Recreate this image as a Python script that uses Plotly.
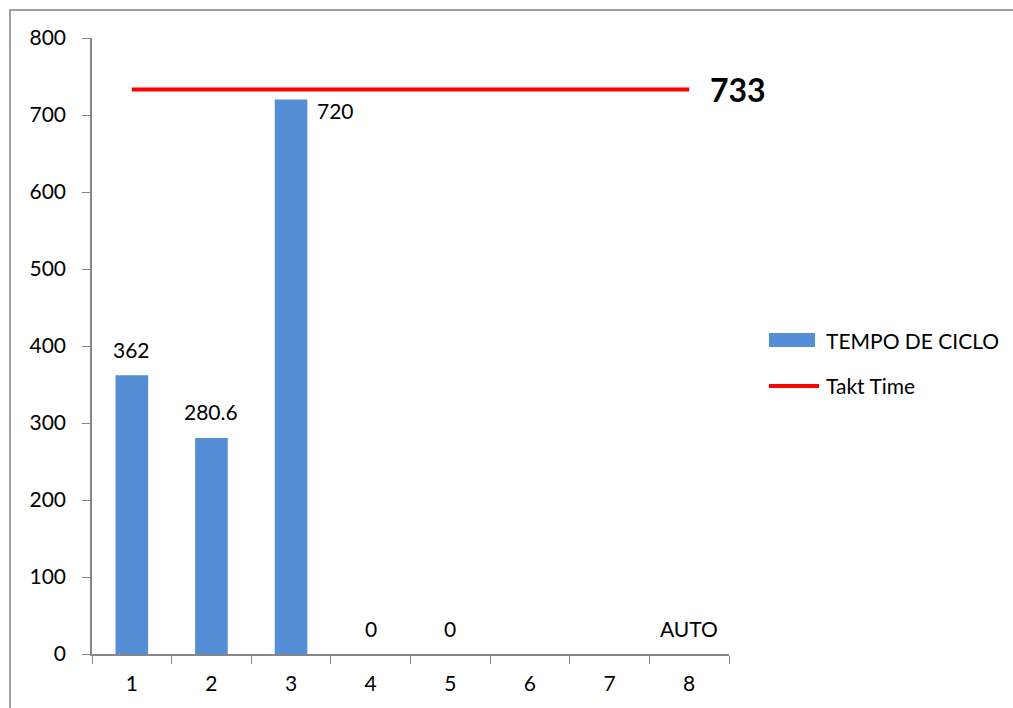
import plotly.graph_objects as go

categories = ["1", "2", "3", "4", "5", "6", "7", "8"]
cycle_time = [362, 280.6, 720, 0, 0, None, None, 0]
bar_labels = ["362", "280.6", "720", "0", "0", "", "", "AUTO"]
takt_time = [733, 733, 733, 733, 733, 733, 733, 733]
takt_label = "733"
series_names = ["TEMPO DE CICLO", "Takt Time"]
y_ticks = [0, 100, 200, 300, 400, 500, 600, 700, 800]

FONT = "Lato"
BLUE = "#558ed5"
RED = "#ff0000"

fig = go.Figure()
fig.add_trace(go.Bar(
    x=categories, y=cycle_time, name=series_names[0],
    marker=dict(color=BLUE, line=dict(width=0)), showlegend=False,
))
fig.add_trace(go.Scatter(
    x=categories, y=takt_time, name=series_names[1], mode="lines",
    line=dict(color=RED, width=4), showlegend=False,
))

# data labels (x given as category index)
for i, (v, t) in enumerate(zip(cycle_time, bar_labels)):
    if not t:
        continue
    val = v if v is not None else 0
    if i == 2:
        fig.add_annotation(x=i, y=val, text=t, showarrow=False, xanchor="left",
                           yanchor="middle", xshift=24, yshift=-11,
                           font=dict(family=FONT, size=21, color="#000"))
    else:
        fig.add_annotation(x=i, y=val, text=t, showarrow=False, xanchor="center",
                           yanchor="middle", yshift=26,
                           font=dict(family=FONT, size=21, color="#000"))

fig.add_annotation(x=len(categories) - 1, y=takt_time[-1], text="<b>" + takt_label + "</b>",
                   showarrow=False, xanchor="left", yanchor="middle", xshift=19, yshift=0,
                   font=dict(family=FONT, size=32, color="#000"))

W, H = 1013, 708
L, R, T, B = 92, 284, 38, 54
pw, ph = W - L - R, H - T - B


def px(xp):
    return (xp - L) / pw


def py(yp):
    return (H - B - yp) / ph


# outer chart border
fig.add_shape(type="rect", xref="paper", yref="paper",
              x0=px(10), x1=px(W + 20), y0=py(H + 20), y1=py(10),
              line=dict(color="#a0a0a0", width=2), fillcolor="rgba(0,0,0,0)", layer="below")

# legend (drawn like the original Excel legend)
fig.add_shape(type="rect", xref="paper", yref="paper",
              x0=px(769), x1=px(815), y0=py(347), y1=py(333),
              line=dict(width=0), fillcolor=BLUE)
fig.add_annotation(xref="paper", yref="paper", x=px(824), y=py(340), text=series_names[0],
                   showarrow=False, xanchor="left", yanchor="middle",
                   font=dict(family=FONT, size=21, color="#000"))
fig.add_shape(type="line", xref="paper", yref="paper",
              x0=px(769), x1=px(819), y0=py(386), y1=py(386),
              line=dict(color=RED, width=4))
fig.add_annotation(xref="paper", yref="paper", x=px(824), y=py(385), text=series_names[1],
                   showarrow=False, xanchor="left", yanchor="middle",
                   font=dict(family=FONT, size=21, color="#000"))

fig.update_layout(
    width=W, height=H,
    margin=dict(l=L, r=R, t=T, b=B),
    paper_bgcolor="white", plot_bgcolor="white",
    bargap=0.59,
    font=dict(family=FONT, size=21, color="#000"),
    showlegend=False,
)
fig.update_xaxes(type="category", categoryorder="array", categoryarray=categories,
                 range=[-0.5, len(categories) - 0.5],
                 showline=True, linecolor="#868686", linewidth=1.5,
                 ticks="outside", ticklen=8, tickcolor="#868686", tickson="boundaries",
                 showgrid=False, ticklabelstandoff=10, tickfont=dict(size=21))
fig.update_yaxes(range=[0, 800], tickvals=y_ticks, showline=True, linecolor="#868686",
                 linewidth=1.5, ticks="outside", ticklen=8, tickcolor="#868686",
                 showgrid=False, zeroline=False, ticklabelstandoff=12, tickfont=dict(size=21))

fig.write_html("out.html")
